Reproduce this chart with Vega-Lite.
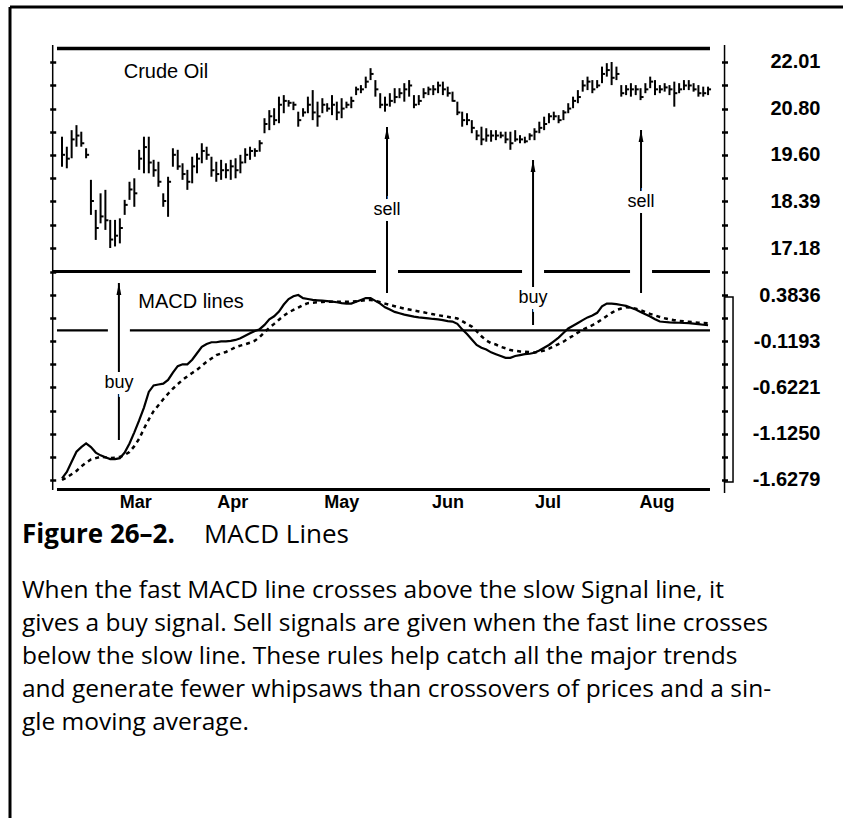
{
  "$schema": "https://vega.github.io/schema/vega-lite/v6.json",
  "width": 833,
  "height": 811,
  "autosize": "none",
  "padding": {"left": 10, "top": 7, "right": 0, "bottom": 0},
  "background": "white",
  "config": {"view": {"stroke": null}},
  "resolve": {"scale": {"y": "independent"}, "axis": {"x": "independent", "y": "independent"}},
  "datasets": {
    "bars": [
      {"day":0,"high":20.07,"low":19.29,"close":19.6,"macd":-1.61,"signal":-1.6279},
      {"day":1,"high":19.81,"low":19.25,"close":19.5,"macd":-1.54,"signal":-1.6},
      {"day":2,"high":20.24,"low":19.51,"close":20.0,"macd":-1.43,"signal":-1.565},
      {"day":3,"high":20.37,"low":19.81,"close":20.1,"macd":-1.32,"signal":-1.53},
      {"day":4,"high":20.2,"low":19.81,"close":19.9,"macd":-1.27,"signal":-1.48},
      {"day":5,"high":19.77,"low":19.51,"close":19.6,"macd":-1.23,"signal":-1.44},
      {"day":6,"high":18.95,"low":18.04,"close":18.4,"macd":-1.27,"signal":-1.405},
      {"day":7,"high":18.17,"low":17.39,"close":17.7,"macd":-1.33,"signal":-1.39},
      {"day":8,"high":18.6,"low":17.82,"close":18.0,"macd":-1.36,"signal":-1.375},
      {"day":9,"high":18.69,"low":17.65,"close":17.9,"macd":-1.38,"signal":-1.382},
      {"day":10,"high":17.91,"low":17.18,"close":17.4,"macd":-1.4,"signal":-1.39},
      {"day":11,"high":17.91,"low":17.22,"close":17.5,"macd":-1.4,"signal":-1.386},
      {"day":12,"high":17.95,"low":17.3,"close":17.7,"macd":-1.39,"signal":-1.377},
      {"day":13,"high":18.43,"low":18.04,"close":18.3,"macd":-1.33,"signal":-1.355},
      {"day":14,"high":18.9,"low":18.43,"close":18.7,"macd":-1.23,"signal":-1.323},
      {"day":15,"high":18.99,"low":18.25,"close":18.6,"macd":-1.11,"signal":-1.26},
      {"day":16,"high":19.73,"low":19.21,"close":19.5,"macd":-0.98,"signal":-1.18},
      {"day":17,"high":20.07,"low":19.12,"close":19.8,"macd":-0.84,"signal":-1.07},
      {"day":18,"high":20.07,"low":19.12,"close":19.4,"macd":-0.67,"signal":-0.97},
      {"day":19,"high":19.47,"low":19.03,"close":19.2,"macd":-0.6,"signal":-0.88},
      {"day":20,"high":19.42,"low":18.77,"close":18.9,"macd":-0.59,"signal":-0.815},
      {"day":21,"high":18.6,"low":18.25,"close":18.4,"macd":-0.58,"signal":-0.75},
      {"day":22,"high":19.03,"low":17.99,"close":18.9,"macd":-0.54,"signal":-0.69},
      {"day":23,"high":19.77,"low":19.29,"close":19.6,"macd":-0.46,"signal":-0.635},
      {"day":24,"high":19.73,"low":19.21,"close":19.3,"macd":-0.39,"signal":-0.586},
      {"day":25,"high":19.38,"low":18.95,"close":19.1,"macd":-0.37,"signal":-0.54},
      {"day":26,"high":19.21,"low":18.69,"close":18.9,"macd":-0.37,"signal":-0.5},
      {"day":27,"high":19.55,"low":18.86,"close":19.3,"macd":-0.32,"signal":-0.464},
      {"day":28,"high":19.64,"low":19.12,"close":19.5,"macd":-0.25,"signal":-0.43},
      {"day":29,"high":19.9,"low":19.38,"close":19.7,"macd":-0.18,"signal":-0.385},
      {"day":30,"high":19.81,"low":19.47,"close":19.6,"macd":-0.15,"signal":-0.342},
      {"day":31,"high":19.55,"low":19.03,"close":19.2,"macd":-0.13,"signal":-0.306},
      {"day":32,"high":19.42,"low":18.9,"close":19.1,"macd":-0.13,"signal":-0.27},
      {"day":33,"high":19.47,"low":18.95,"close":19.2,"macd":-0.12,"signal":-0.253},
      {"day":34,"high":19.38,"low":18.99,"close":19.2,"macd":-0.12,"signal":-0.236},
      {"day":35,"high":19.47,"low":18.95,"close":19.3,"macd":-0.115,"signal":-0.211},
      {"day":36,"high":19.51,"low":18.99,"close":19.2,"macd":-0.105,"signal":-0.184},
      {"day":37,"high":19.6,"low":19.12,"close":19.4,"macd":-0.087,"signal":-0.167},
      {"day":38,"high":19.77,"low":19.38,"close":19.6,"macd":-0.06,"signal":-0.153},
      {"day":39,"high":19.81,"low":19.47,"close":19.7,"macd":-0.033,"signal":-0.135},
      {"day":40,"high":19.77,"low":19.55,"close":19.7,"macd":-0.007,"signal":-0.114},
      {"day":41,"high":19.98,"low":19.68,"close":19.9,"macd":0.012,"signal":-0.073},
      {"day":42,"high":20.55,"low":20.16,"close":20.4,"macd":0.058,"signal":-0.02},
      {"day":43,"high":20.76,"low":20.24,"close":20.6,"macd":0.12,"signal":0.027},
      {"day":44,"high":20.81,"low":20.37,"close":20.5,"macd":0.152,"signal":0.07},
      {"day":45,"high":21.11,"low":20.42,"close":20.9,"macd":0.204,"signal":0.115},
      {"day":46,"high":21.15,"low":20.68,"close":21.0,"macd":0.28,"signal":0.158},
      {"day":47,"high":21.02,"low":20.85,"close":20.95,"macd":0.34,"signal":0.195},
      {"day":48,"high":20.98,"low":20.76,"close":20.9,"macd":0.37,"signal":0.221},
      {"day":49,"high":20.72,"low":20.33,"close":20.5,"macd":0.3836,"signal":0.247},
      {"day":50,"high":20.81,"low":20.59,"close":20.7,"macd":0.35,"signal":0.274},
      {"day":51,"high":21.11,"low":20.68,"close":20.9,"macd":0.34,"signal":0.295},
      {"day":52,"high":21.28,"low":20.5,"close":20.7,"macd":0.33,"signal":0.3},
      {"day":53,"high":20.98,"low":20.33,"close":20.6,"macd":0.326,"signal":0.304},
      {"day":54,"high":21.07,"low":20.68,"close":20.9,"macd":0.322,"signal":0.308},
      {"day":55,"high":20.94,"low":20.72,"close":20.8,"macd":0.318,"signal":0.311},
      {"day":56,"high":21.15,"low":20.63,"close":20.9,"macd":0.312,"signal":0.311},
      {"day":57,"high":20.98,"low":20.5,"close":20.7,"macd":0.305,"signal":0.311},
      {"day":58,"high":21.07,"low":20.55,"close":20.8,"macd":0.296,"signal":0.311},
      {"day":59,"high":20.98,"low":20.81,"close":20.9,"macd":0.29,"signal":0.311},
      {"day":60,"high":21.11,"low":20.81,"close":21.0,"macd":0.29,"signal":0.311},
      {"day":61,"high":21.37,"low":21.15,"close":21.3,"macd":0.31,"signal":0.315},
      {"day":62,"high":21.41,"low":21.2,"close":21.3,"macd":0.33,"signal":0.32},
      {"day":63,"high":21.63,"low":21.33,"close":21.5,"macd":0.35,"signal":0.328},
      {"day":64,"high":21.85,"low":21.54,"close":21.7,"macd":0.35,"signal":0.328},
      {"day":65,"high":21.54,"low":21.11,"close":21.3,"macd":0.32,"signal":0.322},
      {"day":66,"high":21.2,"low":20.81,"close":20.9,"macd":0.29,"signal":0.305},
      {"day":67,"high":21.11,"low":20.72,"close":20.9,"macd":0.25,"signal":0.29},
      {"day":68,"high":21.2,"low":20.85,"close":21.0,"macd":0.225,"signal":0.275},
      {"day":69,"high":21.33,"low":20.94,"close":21.1,"macd":0.2,"signal":0.262},
      {"day":70,"high":21.33,"low":21.07,"close":21.2,"macd":0.185,"signal":0.248},
      {"day":71,"high":21.46,"low":20.98,"close":21.3,"macd":0.17,"signal":0.236},
      {"day":72,"high":21.54,"low":21.11,"close":21.4,"macd":0.16,"signal":0.226},
      {"day":73,"high":21.15,"low":20.81,"close":20.9,"macd":0.148,"signal":0.215},
      {"day":74,"high":21.15,"low":20.89,"close":21.0,"macd":0.14,"signal":0.205},
      {"day":75,"high":21.33,"low":21.07,"close":21.2,"macd":0.135,"signal":0.195},
      {"day":76,"high":21.37,"low":21.15,"close":21.3,"macd":0.13,"signal":0.184},
      {"day":77,"high":21.41,"low":21.15,"close":21.3,"macd":0.123,"signal":0.174},
      {"day":78,"high":21.5,"low":21.2,"close":21.4,"macd":0.118,"signal":0.164},
      {"day":79,"high":21.5,"low":21.15,"close":21.3,"macd":0.11,"signal":0.155},
      {"day":80,"high":21.37,"low":21.11,"close":21.2,"macd":0.1,"signal":0.146},
      {"day":81,"high":21.24,"low":20.98,"close":21.0,"macd":0.095,"signal":0.137},
      {"day":82,"high":20.98,"low":20.63,"close":20.7,"macd":0.07,"signal":0.128},
      {"day":83,"high":20.72,"low":20.33,"close":20.5,"macd":0.01,"signal":0.1},
      {"day":84,"high":20.68,"low":20.37,"close":20.5,"macd":-0.04,"signal":0.07},
      {"day":85,"high":20.5,"low":20.16,"close":20.3,"macd":-0.1,"signal":0.04},
      {"day":86,"high":20.24,"low":19.98,"close":20.1,"macd":-0.16,"signal":-0.01},
      {"day":87,"high":20.33,"low":19.85,"close":20.0,"macd":-0.19,"signal":-0.065},
      {"day":88,"high":20.29,"low":19.94,"close":20.1,"macd":-0.21,"signal":-0.11},
      {"day":89,"high":20.24,"low":19.94,"close":20.1,"macd":-0.24,"signal":-0.14},
      {"day":90,"high":20.24,"low":19.98,"close":20.1,"macd":-0.26,"signal":-0.155},
      {"day":91,"high":20.2,"low":20.03,"close":20.1,"macd":-0.28,"signal":-0.18},
      {"day":92,"high":20.2,"low":19.9,"close":20.0,"macd":-0.3,"signal":-0.196},
      {"day":93,"high":20.2,"low":19.73,"close":19.9,"macd":-0.3,"signal":-0.215},
      {"day":94,"high":20.24,"low":19.94,"close":20.0,"macd":-0.28,"signal":-0.222},
      {"day":95,"high":20.11,"low":19.9,"close":20.0,"macd":-0.27,"signal":-0.23},
      {"day":96,"high":20.07,"low":19.9,"close":19.95,"macd":-0.26,"signal":-0.234},
      {"day":97,"high":20.16,"low":19.98,"close":20.1,"macd":-0.255,"signal":-0.238},
      {"day":98,"high":20.29,"low":19.98,"close":20.2,"macd":-0.245,"signal":-0.242},
      {"day":99,"high":20.46,"low":20.16,"close":20.3,"macd":-0.22,"signal":-0.233},
      {"day":100,"high":20.59,"low":20.24,"close":20.4,"macd":-0.19,"signal":-0.22},
      {"day":101,"high":20.68,"low":20.42,"close":20.6,"macd":-0.16,"signal":-0.2},
      {"day":102,"high":20.72,"low":20.5,"close":20.6,"macd":-0.12,"signal":-0.176},
      {"day":103,"high":20.63,"low":20.42,"close":20.5,"macd":-0.08,"signal":-0.15},
      {"day":104,"high":20.76,"low":20.5,"close":20.7,"macd":-0.03,"signal":-0.124},
      {"day":105,"high":20.94,"low":20.68,"close":20.8,"macd":0.02,"signal":-0.09},
      {"day":106,"high":21.11,"low":20.81,"close":21.0,"macd":0.05,"signal":-0.06},
      {"day":107,"high":21.28,"low":20.94,"close":21.1,"macd":0.08,"signal":-0.025},
      {"day":108,"high":21.54,"low":21.24,"close":21.4,"macd":0.11,"signal":0.005},
      {"day":109,"high":21.63,"low":21.28,"close":21.5,"macd":0.14,"signal":0.03},
      {"day":110,"high":21.54,"low":21.2,"close":21.3,"macd":0.16,"signal":0.055},
      {"day":111,"high":21.54,"low":21.33,"close":21.4,"macd":0.19,"signal":0.085},
      {"day":112,"high":21.89,"low":21.46,"close":21.7,"macd":0.26,"signal":0.12},
      {"day":113,"high":21.98,"low":21.63,"close":21.8,"macd":0.29,"signal":0.155},
      {"day":114,"high":22.01,"low":21.41,"close":21.6,"macd":0.29,"signal":0.19},
      {"day":115,"high":21.89,"low":21.54,"close":21.7,"macd":0.285,"signal":0.22},
      {"day":116,"high":21.41,"low":21.11,"close":21.2,"macd":0.275,"signal":0.237},
      {"day":117,"high":21.41,"low":21.15,"close":21.3,"macd":0.265,"signal":0.25},
      {"day":118,"high":21.46,"low":21.11,"close":21.3,"macd":0.245,"signal":0.245},
      {"day":119,"high":21.41,"low":21.15,"close":21.3,"macd":0.225,"signal":0.235},
      {"day":120,"high":21.33,"low":21.02,"close":21.1,"macd":0.2,"signal":0.218},
      {"day":121,"high":21.46,"low":21.2,"close":21.3,"macd":0.175,"signal":0.198},
      {"day":122,"high":21.63,"low":21.33,"close":21.5,"macd":0.15,"signal":0.178},
      {"day":123,"high":21.54,"low":21.15,"close":21.3,"macd":0.12,"signal":0.162},
      {"day":124,"high":21.41,"low":21.2,"close":21.3,"macd":0.095,"signal":0.145},
      {"day":125,"high":21.46,"low":21.24,"close":21.35,"macd":0.09,"signal":0.13},
      {"day":126,"high":21.41,"low":21.15,"close":21.3,"macd":0.085,"signal":0.118},
      {"day":127,"high":21.5,"low":20.85,"close":21.2,"macd":0.083,"signal":0.11},
      {"day":128,"high":21.46,"low":21.2,"close":21.3,"macd":0.082,"signal":0.103},
      {"day":129,"high":21.54,"low":21.28,"close":21.4,"macd":0.079,"signal":0.097},
      {"day":130,"high":21.54,"low":21.28,"close":21.4,"macd":0.077,"signal":0.093},
      {"day":131,"high":21.46,"low":21.24,"close":21.3,"macd":0.072,"signal":0.088},
      {"day":132,"high":21.41,"low":21.11,"close":21.2,"macd":0.066,"signal":0.083},
      {"day":133,"high":21.37,"low":21.11,"close":21.2,"macd":0.06,"signal":0.079},
      {"day":134,"high":21.37,"low":21.15,"close":21.3,"macd":0.055,"signal":0.076}
    ],
    "arrows": [
      {"day": 11.8, "signal": "buy", "tip": 16.271, "end": 12.194, "label_at": 13.674},
      {"day": 67.41, "signal": "sell", "tip": 20.322, "end": 16.012, "label_at": 18.167},
      {"day": 97.7, "signal": "buy", "tip": 19.465, "end": 15.181, "label_at": 15.882},
      {"day": 120.1, "signal": "sell", "tip": 20.244, "end": 16.012, "label_at": 18.375}
    ],
    "months": [
      {"day": 15.29, "month": "Mar"},
      {"day": 35.41, "month": "Apr"},
      {"day": 58.02, "month": "May"},
      {"day": 80.07, "month": "Jun"},
      {"day": 100.82, "month": "Jul"},
      {"day": 123.43, "month": "Aug"}
    ],
    "body": [
      {"line": 1, "text": "When the fast MACD line crosses above the slow Signal line, it"},
      {"line": 2, "text": "gives a buy signal. Sell signals are given when the fast line crosses"},
      {"line": 3, "text": "below the slow line. These rules help catch all the major trends"},
      {"line": 4, "text": "and generate fewer whipsaws than crossovers of prices and a sin-"},
      {"line": 5, "text": "gle moving average."}
    ]
  },
  "layer": [
    {
      "data": {"values": [{}]},
      "mark": {"type": "rule", "color": "black", "strokeWidth": 3},
      "encoding": {
        "x": {"datum": -10.786, "type": "quantitative", "scale": {"domain": [-10.786, 161.99], "nice": false, "zero": false}, "axis": null},
        "x2": {"datum": 161.99},
        "y": {"datum": 23.438, "type": "quantitative", "scale": {"domain": [2.379, 23.438], "nice": false, "zero": false}, "axis": null}
      }
    },
    {
      "data": {"values": [{}]},
      "mark": {"type": "rule", "color": "black", "strokeWidth": 3},
      "encoding": {
        "x": {"datum": -10.786, "type": "quantitative", "scale": {"domain": [-10.786, 161.99], "nice": false, "zero": false}, "axis": null},
        "y": {"datum": 23.438, "type": "quantitative", "scale": {"domain": [2.379, 23.438], "nice": false, "zero": false}, "axis": null},
        "y2": {"datum": 2.379}
      }
    },
    {
      "data": {"values": [{}]},
      "mark": {"type": "rule", "color": "black", "strokeWidth": 3.5},
      "encoding": {
        "x": {"datum": -1.04, "type": "quantitative", "scale": {"domain": [-10.786, 161.99], "nice": false, "zero": false}, "axis": null},
        "x2": {"datum": 134.4},
        "y": {"datum": 22.361, "type": "quantitative", "scale": {"domain": [2.379, 23.438], "nice": false, "zero": false}, "axis": null}
      }
    },
    {
      "data": {"values": [{}]},
      "mark": {"type": "rule", "color": "black", "strokeWidth": 3},
      "encoding": {
        "x": {"datum": -1.93, "type": "quantitative", "scale": {"domain": [-10.786, 161.99], "nice": false, "zero": false}, "axis": null},
        "x2": {"datum": 134.4},
        "y": {"datum": 16.57, "type": "quantitative", "scale": {"domain": [2.379, 23.438], "nice": false, "zero": false}, "axis": null}
      }
    },
    {
      "data": {"values": [{}]},
      "mark": {"type": "rule", "color": "black", "strokeWidth": 2.2},
      "encoding": {
        "x": {"datum": -1.04, "type": "quantitative", "scale": {"domain": [-10.786, 161.99], "nice": false, "zero": false}, "axis": null},
        "x2": {"datum": 134.4},
        "y": {"datum": 0, "type": "quantitative", "scale": {"domain": [-5.3031, 3.5151], "nice": false, "zero": false}, "axis": null}
      }
    },
    {
      "data": {"values": [{}]},
      "mark": {"type": "rule", "color": "black", "strokeWidth": 3},
      "encoding": {
        "x": {"datum": -1.04, "type": "quantitative", "scale": {"domain": [-10.786, 161.99], "nice": false, "zero": false}, "axis": null},
        "x2": {"datum": 134.4},
        "y": {"datum": -1.7312, "type": "quantitative", "scale": {"domain": [-5.3031, 3.5151], "nice": false, "zero": false}, "axis": null}
      }
    },
    {
      "data": {"values": [{}]},
      "mark": {"type": "rule", "color": "black", "strokeWidth": 1.5},
      "encoding": {
        "x": {"datum": -1.93, "type": "quantitative", "scale": {"domain": [-10.786, 161.99], "nice": false, "zero": false}, "axis": null},
        "y": {"datum": 22.451, "type": "quantitative", "scale": {"domain": [2.379, 23.438], "nice": false, "zero": false}, "axis": null},
        "y2": {"datum": 10.896}
      }
    },
    {
      "data": {"values": [{}]},
      "mark": {"type": "rule", "color": "black", "strokeWidth": 1.5},
      "encoding": {
        "x": {"datum": 137.42, "type": "quantitative", "scale": {"domain": [-10.786, 161.99], "nice": false, "zero": false}, "axis": null},
        "y": {"datum": 22.451, "type": "quantitative", "scale": {"domain": [2.379, 23.438], "nice": false, "zero": false}, "axis": null},
        "y2": {"datum": 10.818}
      }
    },
    {
      "data": {"values": [{}]},
      "mark": {"type": "rect", "stroke": "black", "strokeWidth": 1.5, "fillOpacity": 0},
      "encoding": {
        "x": {"datum": 137.42, "type": "quantitative", "scale": {"domain": [-10.786, 161.99], "nice": false, "zero": false}, "axis": null},
        "x2": {"datum": 139.18},
        "y": {"datum": 0.3619, "type": "quantitative", "scale": {"domain": [-5.3031, 3.5151], "nice": false, "zero": false}, "axis": null},
        "y2": {"datum": -1.6497}
      }
    },
    {
      "data": {"name": "arrows"},
      "mark": {"type": "rule", "color": "white", "strokeWidth": 22},
      "encoding": {
        "x": {"field": "day", "type": "quantitative", "scale": {"domain": [-10.786, 161.99], "nice": false, "zero": false}, "axis": null},
        "y": {"field": "tip", "type": "quantitative", "scale": {"domain": [2.379, 23.438], "nice": false, "zero": false}, "axis": null},
        "y2": {"field": "end"}
      }
    },
    {
      "data": {"name": "months"},
      "mark": {"type": "text", "font": "Liberation Sans, Arial, sans-serif", "fontWeight": "bold", "fontSize": 18, "color": "black", "align": "center", "baseline": "top"},
      "encoding": {
        "x": {"field": "day", "type": "quantitative", "scale": {"domain": [-10.786, 161.99], "nice": false, "zero": false}, "axis": null},
        "y": {"datum": -1.78, "type": "quantitative", "scale": {"domain": [-5.3031, 3.5151], "nice": false, "zero": false}, "axis": null},
        "text": {"field": "month"}
      }
    },
    {
      "data": {"name": "bars"},
      "mark": {"type": "rule", "color": "black", "strokeWidth": 2},
      "encoding": {
        "x": {"field": "day", "type": "quantitative", "scale": {"domain": [-10.786, 161.99], "nice": false, "zero": false}, "axis": null},
        "y": {"field": "low", "type": "quantitative", "scale": {"domain": [2.379, 23.438], "nice": false, "zero": false},
          "axis": {"orient": "right", "offset": -121.5, "title": null, "grid": false, "domain": false,
            "values": [22.01, 21.405, 20.8, 20.195, 19.6, 18.995, 18.39, 17.785, 17.18],
            "ticks": true, "tickSize": 6, "tickWidth": 2.5, "tickColor": "black",
            "labelExpr": "indexof(['22.01','20.80','19.60','18.39','17.18'], format(datum.value, '.2f')) >= 0 ? format(datum.value, '.2f') : ''",
            "labelAlign": "right", "labelBaseline": "middle", "labelPadding": 92.5,
            "labelFont": "Liberation Sans, Arial, sans-serif", "labelFontWeight": "bold", "labelFontSize": 20,
            "labelColor": "black", "labelOverlap": false, "labelFlush": false, "labelBound": false}},
        "y2": {"field": "high"}
      }
    },
    {
      "data": {"name": "bars"},
      "mark": {"type": "point", "shape": "M0,0L1,0", "size": 36, "filled": false, "stroke": "black", "strokeWidth": 2, "opacity": 1},
      "encoding": {
        "x": {"field": "day", "type": "quantitative", "scale": {"domain": [-10.786, 161.99], "nice": false, "zero": false}, "axis": null},
        "y": {"field": "close", "type": "quantitative", "scale": {"domain": [2.379, 23.438], "nice": false, "zero": false},
          "axis": {"orient": "left", "offset": -45.7, "title": null, "grid": false, "domain": false, "labels": false,
            "values": [22.01, 21.405, 20.8, 20.195, 19.6, 18.995, 18.39, 17.785, 17.18],
            "ticks": true, "tickSize": 6, "tickWidth": 2.5, "tickColor": "black"}}
      }
    },
    {
      "data": {"name": "bars"},
      "mark": {"type": "line", "color": "black", "strokeWidth": 2.2},
      "encoding": {
        "x": {"field": "day", "type": "quantitative", "scale": {"domain": [-10.786, 161.99], "nice": false, "zero": false}, "axis": null},
        "y": {"field": "macd", "type": "quantitative", "scale": {"domain": [-5.3031, 3.5151], "nice": false, "zero": false},
          "axis": {"orient": "right", "offset": -121.5, "title": null, "grid": false, "domain": false,
            "values": [0.635, 0.3836, 0.13215, -0.1193, -0.37075, -0.6221, -0.87355, -1.125, -1.37645, -1.6279],
            "ticks": true, "tickSize": 6, "tickWidth": 2.5, "tickColor": "black",
            "labelExpr": "indexof(['0.3836','-0.1193','-0.6221','-1.1250','-1.6279'], replace(format(datum.value, '.4f'), '\u2212', '-')) >= 0 ? replace(format(datum.value, '.4f'), '\u2212', '-') : ''",
            "labelAlign": "right", "labelBaseline": "middle", "labelPadding": 92.5,
            "labelFont": "Liberation Sans, Arial, sans-serif", "labelFontWeight": "bold", "labelFontSize": 20,
            "labelColor": "black", "labelOverlap": false, "labelFlush": false, "labelBound": false}}
      }
    },
    {
      "data": {"name": "bars"},
      "mark": {"type": "line", "color": "black", "strokeWidth": 2.5, "strokeDash": [4, 4]},
      "encoding": {
        "x": {"field": "day", "type": "quantitative", "scale": {"domain": [-10.786, 161.99], "nice": false, "zero": false}, "axis": null},
        "y": {"field": "signal", "type": "quantitative", "scale": {"domain": [-5.3031, 3.5151], "nice": false, "zero": false},
          "axis": {"orient": "left", "offset": -45.7, "title": null, "grid": false, "domain": false, "labels": false,
            "values": [0.635, 0.3836, 0.13215, -0.1193, -0.37075, -0.6221, -0.87355, -1.125, -1.37645, -1.6279],
            "ticks": true, "tickSize": 6, "tickWidth": 2.5, "tickColor": "black"}}
      }
    },
    {
      "data": {"name": "arrows"},
      "mark": {"type": "rule", "color": "black", "strokeWidth": 2},
      "encoding": {
        "x": {"field": "day", "type": "quantitative", "scale": {"domain": [-10.786, 161.99], "nice": false, "zero": false}, "axis": null},
        "y": {"field": "tip", "type": "quantitative", "scale": {"domain": [2.379, 23.438], "nice": false, "zero": false}, "axis": null},
        "y2": {"field": "end"}
      }
    },
    {
      "data": {"name": "arrows"},
      "mark": {"type": "point", "shape": "M0,0L0.4,2L-0.4,2Z", "size": 144, "filled": true, "color": "black", "opacity": 1},
      "encoding": {
        "x": {"field": "day", "type": "quantitative", "scale": {"domain": [-10.786, 161.99], "nice": false, "zero": false}, "axis": null},
        "y": {"field": "tip", "type": "quantitative", "scale": {"domain": [2.379, 23.438], "nice": false, "zero": false}, "axis": null}
      }
    },
    {
      "data": {"name": "arrows"},
      "mark": {"type": "text", "font": "Liberation Sans, Arial, sans-serif", "fontSize": 18, "color": "white", "stroke": "white", "strokeWidth": 12, "align": "center", "baseline": "middle"},
      "encoding": {
        "x": {"field": "day", "type": "quantitative", "scale": {"domain": [-10.786, 161.99], "nice": false, "zero": false}, "axis": null},
        "y": {"field": "label_at", "type": "quantitative", "scale": {"domain": [2.379, 23.438], "nice": false, "zero": false}, "axis": null},
        "text": {"field": "signal"}
      }
    },
    {
      "data": {"name": "arrows"},
      "mark": {"type": "text", "font": "Liberation Sans, Arial, sans-serif", "fontSize": 18, "color": "black", "align": "center", "baseline": "middle"},
      "encoding": {
        "x": {"field": "day", "type": "quantitative", "scale": {"domain": [-10.786, 161.99], "nice": false, "zero": false}, "axis": null},
        "y": {"field": "label_at", "type": "quantitative", "scale": {"domain": [2.379, 23.438], "nice": false, "zero": false}, "axis": null},
        "text": {"field": "signal"}
      }
    },
    {
      "data": {"values": [{}]},
      "mark": {"type": "text", "text": "Crude Oil", "font": "Liberation Sans, Arial, sans-serif", "fontSize": 20, "color": "black", "align": "center", "baseline": "middle"},
      "encoding": {
        "x": {"datum": 21.57, "type": "quantitative", "scale": {"domain": [-10.786, 161.99], "nice": false, "zero": false}, "axis": null},
        "y": {"datum": 21.75, "type": "quantitative", "scale": {"domain": [2.379, 23.438], "nice": false, "zero": false}, "axis": null}
      }
    },
    {
      "data": {"values": [{}]},
      "mark": {"type": "text", "text": "MACD lines", "font": "Liberation Sans, Arial, sans-serif", "fontSize": 20, "color": "black", "align": "center", "baseline": "middle"},
      "encoding": {
        "x": {"datum": 26.76, "type": "quantitative", "scale": {"domain": [-10.786, 161.99], "nice": false, "zero": false}, "axis": null},
        "y": {"datum": 0.3075, "type": "quantitative", "scale": {"domain": [-5.3031, 3.5151], "nice": false, "zero": false}, "axis": null}
      }
    },
    {
      "data": {"values": [{}]},
      "mark": {"type": "text", "text": "Figure 26\u20132.", "font": "Open Sans", "fontSize": 26, "fontWeight": "bold", "color": "black", "align": "left", "baseline": "middle"},
      "encoding": {
        "x": {"datum": -8.3, "type": "quantitative", "scale": {"domain": [-10.786, 161.99], "nice": false, "zero": false}, "axis": null},
        "y": {"datum": -0.697, "type": "quantitative", "scale": {"domain": [-16.697, 7.879], "nice": false, "zero": false, "reverse": true}, "axis": null}
      }
    },
    {
      "data": {"values": [{}]},
      "mark": {"type": "text", "text": "MACD Lines", "font": "Open Sans", "fontSize": 26, "color": "black", "align": "left", "baseline": "middle"},
      "encoding": {
        "x": {"datum": 29.45, "type": "quantitative", "scale": {"domain": [-10.786, 161.99], "nice": false, "zero": false}, "axis": null},
        "y": {"datum": -0.697, "type": "quantitative", "scale": {"domain": [-16.697, 7.879], "nice": false, "zero": false, "reverse": true}, "axis": null}
      }
    },
    {
      "data": {"name": "body"},
      "mark": {"type": "text", "font": "Open Sans", "fontSize": 24.5, "color": "black", "align": "left", "baseline": "middle"},
      "encoding": {
        "x": {"datum": -8.3, "type": "quantitative", "scale": {"domain": [-10.786, 161.99], "nice": false, "zero": false}, "axis": null},
        "y": {"field": "line", "type": "quantitative", "scale": {"domain": [-16.697, 7.879], "nice": false, "zero": false, "reverse": true}, "axis": null},
        "text": {"field": "text"}
      }
    }
  ]
}
